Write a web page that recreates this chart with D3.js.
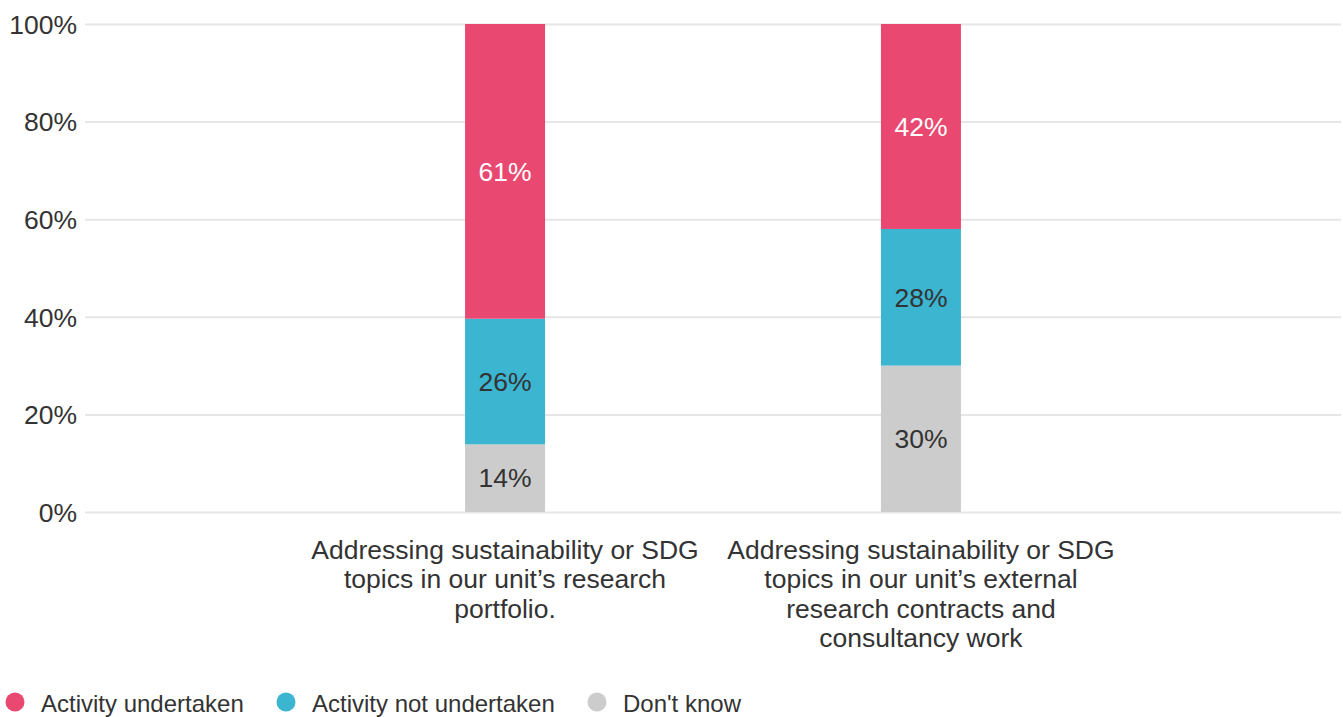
<!DOCTYPE html>
<html>
<head>
<meta charset="utf-8">
<script src="https://cdn.jsdelivr.net/npm/d3@7"></script>
<style>
  html, body { margin: 0; padding: 0; background: #fff; }
  svg { display: block; font-family: "Liberation Sans", Arial, sans-serif; }
</style>
</head>
<body>
<svg id="chart" width="1343" height="717"></svg>
<script>
// Survey responses per activity (percent of respondents)
const categories = [
  "Addressing sustainability or SDG topics in our unit’s research portfolio.",
  "Addressing sustainability or SDG topics in our unit’s external research contracts and consultancy work"
];
const categoryLines = [
  ["Addressing sustainability or SDG", "topics in our unit’s research", "portfolio."],
  ["Addressing sustainability or SDG", "topics in our unit’s external", "research contracts and", "consultancy work"]
];
const seriesNames = ["Don't know", "Activity not undertaken", "Activity undertaken"];
const dontKnow = [14, 30];
const notUndertaken = [26, 28];
const undertaken = [61, 42];
const yTicks = [0, 20, 40, 60, 80, 100];
const legendOrder = ["Activity undertaken", "Activity not undertaken", "Don't know"];

const colors = {
  "Activity undertaken": "#e94871",
  "Activity not undertaken": "#3bb5d0",
  "Don't know": "#cccccc"
};
const labelColors = {
  "Activity undertaken": "#ffffff",
  "Activity not undertaken": "#333333",
  "Don't know": "#333333"
};

const rows = categories.map((c, i) => ({
  category: c,
  "Don't know": dontKnow[i],
  "Activity not undertaken": notUndertaken[i],
  "Activity undertaken": undertaken[i]
}));

const svg = d3.select("#chart");
const margin = { left: 85, right: 2, top: 24, bottom: 205 };
const W = 1343, H = 717;

const x = d3.scalePoint()
  .domain(categories)
  .range([margin.left, W - margin.right])
  .padding(1.01);
const y = d3.scaleLinear().domain([0, 1]).range([H - margin.bottom, margin.top]);

// Stack normalized to 100% of each bar
const stack = d3.stack().keys(seriesNames).offset(d3.stackOffsetExpand);
const layers = stack(rows);

// Gridlines and y axis labels
const yAxis = d3.axisLeft(y)
  .tickValues(yTicks.map(v => v / 100))
  .tickSize(-(W - margin.right - margin.left))
  .tickFormat((d, i) => yTicks[i] + "%");
const gy = svg.append("g")
  .attr("transform", `translate(${margin.left},0)`)
  .call(yAxis);
gy.select(".domain").remove();
gy.selectAll(".tick line").attr("stroke", "#e6e6e6").attr("stroke-width", 2);
gy.selectAll(".tick text")
  .attr("x", -8)
  .attr("dy", "0.35em")
  .attr("fill", "#333333")
  .style("font-size", "26.5px");

// Bars
const barW = 80;
const layerG = svg.append("g").selectAll("g")
  .data(layers)
  .join("g")
  .attr("fill", d => colors[d.key]);

layerG.selectAll("rect")
  .data(d => d.map(p => Object.assign(p, { key: d.key })))
  .join("rect")
  .attr("x", d => x(d.data.category) - barW / 2)
  .attr("width", barW)
  .attr("y", d => y(d[1]))
  .attr("height", d => y(d[0]) - y(d[1]));

// Value labels inside segments
layerG.selectAll("text")
  .data(d => d)
  .join("text")
  .attr("x", d => x(d.data.category))
  .attr("y", d => (y(d[0]) + y(d[1])) / 2)
  .attr("dy", "0.35em")
  .attr("text-anchor", "middle")
  .attr("fill", d => labelColors[d.key])
  .style("font-size", "26.5px")
  .text(d => d.data[d.key] + "%");

// Category labels
const catG = svg.append("g");
categories.forEach((c, i) => {
  const t = catG.append("text")
    .attr("text-anchor", "middle")
    .attr("fill", "#333333")
    .style("font-size", "26.5px");
  categoryLines[i].forEach((line, j) => {
    t.append("tspan")
      .attr("x", x(c))
      .attr("y", 559 + j * 29.3)
      .text(line);
  });
});

// Legend
const legendX = [15, 286, 597];
const lg = svg.append("g");
legendOrder.forEach((name, i) => {
  lg.append("circle")
    .attr("cx", legendX[i])
    .attr("cy", 702)
    .attr("r", 9.5)
    .attr("fill", colors[name]);
  lg.append("text")
    .attr("x", legendX[i] + 26)
    .attr("y", 704)
    .attr("dy", "0.35em")
    .attr("fill", "#333333")
    .style("font-size", "24px")
    .text(name);
});
</script>
</body>
</html>
